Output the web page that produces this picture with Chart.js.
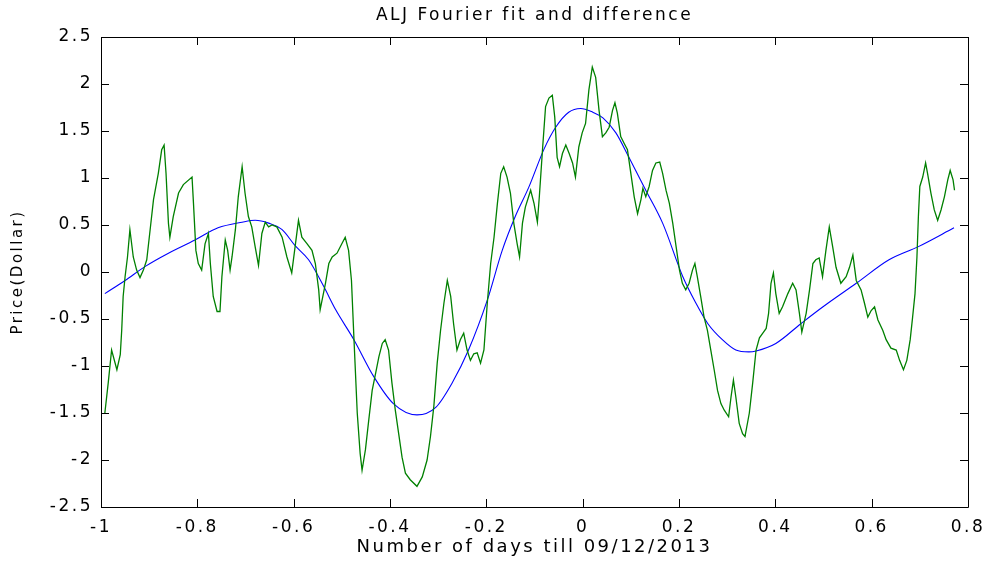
<!DOCTYPE html>
<html>
<head>
<meta charset="utf-8">
<script src="https://cdn.jsdelivr.net/npm/chart.js@4/dist/chart.umd.min.js"></script>
<style>
  html, body { margin: 0; padding: 0; background: #fff; }
  canvas { display: block; }
</style>
</head>
<body>
<canvas id="fitChart" width="995" height="561"></canvas>
<script>
// price difference (green)
const diffX = [-0.992,-0.985,-0.978,-0.967,-0.960,-0.957,-0.954,-0.950,-0.945,-0.940,-0.933,-0.926,-0.919,-0.912,-0.905,-0.898,-0.891,-0.881,-0.874,-0.869,-0.865,-0.860,-0.857,-0.850,-0.839,-0.829,-0.811,-0.808,-0.803,-0.798,-0.791,-0.784,-0.777,-0.773,-0.767,-0.759,-0.753,-0.749,-0.742,-0.737,-0.732,-0.728,-0.721,-0.715,-0.707,-0.701,-0.694,-0.687,-0.680,-0.673,-0.666,-0.659,-0.652,-0.645,-0.635,-0.624,-0.614,-0.604,-0.597,-0.590,-0.583,-0.572,-0.562,-0.555,-0.548,-0.545,-0.534,-0.527,-0.520,-0.510,-0.500,-0.493,-0.486,-0.480,-0.475,-0.468,-0.462,-0.458,-0.451,-0.444,-0.437,-0.430,-0.423,-0.416,-0.410,-0.403,-0.396,-0.389,-0.382,-0.375,-0.368,-0.358,-0.344,-0.333,-0.323,-0.316,-0.309,-0.302,-0.295,-0.288,-0.281,-0.274,-0.268,-0.261,-0.254,-0.247,-0.240,-0.233,-0.226,-0.219,-0.212,-0.205,-0.198,-0.191,-0.184,-0.177,-0.170,-0.164,-0.157,-0.150,-0.143,-0.136,-0.131,-0.125,-0.119,-0.108,-0.101,-0.094,-0.090,-0.083,-0.077,-0.070,-0.063,-0.058,-0.053,-0.048,-0.042,-0.035,-0.028,-0.021,-0.015,-0.008,-0.001,0.006,0.013,0.020,0.027,0.034,0.041,0.048,0.055,0.062,0.067,0.072,0.079,0.086,0.093,0.100,0.107,0.114,0.121,0.125,0.131,0.138,0.145,0.152,0.160,0.166,0.173,0.180,0.187,0.194,0.201,0.207,0.214,0.221,0.228,0.233,0.238,0.245,0.252,0.259,0.266,0.273,0.280,0.287,0.294,0.303,0.308,0.313,0.318,0.325,0.332,0.337,0.346,0.353,0.360,0.367,0.374,0.381,0.386,0.391,0.396,0.401,0.408,0.415,0.426,0.436,0.443,0.450,0.455,0.464,0.471,0.478,0.484,0.491,0.498,0.505,0.512,0.519,0.526,0.536,0.547,0.554,0.561,0.568,0.578,0.585,0.592,0.599,0.606,0.613,0.623,0.630,0.640,0.651,0.658,0.666,0.673,0.680,0.685,0.690,0.694,0.697,0.700,0.706,0.712,0.716,0.723,0.730,0.737,0.744,0.751,0.758,0.763,0.769,0.772];
const diffY = [-1.50,-1.18,-0.83,-1.04,-0.88,-0.62,-0.26,-0.05,0.16,0.45,0.16,0.02,-0.06,0.02,0.13,0.45,0.77,1.05,1.30,1.35,1.05,0.52,0.37,0.59,0.84,0.93,1.01,0.73,0.23,0.09,0.02,0.30,0.41,0.09,-0.26,-0.42,-0.42,-0.05,0.34,0.23,0.02,0.16,0.45,0.80,1.12,0.84,0.59,0.48,0.27,0.07,0.41,0.53,0.48,0.50,0.48,0.37,0.16,-0.01,0.27,0.55,0.37,0.30,0.23,0.09,-0.19,-0.40,-0.12,0.09,0.16,0.20,0.30,0.37,0.23,-0.09,-0.69,-1.50,-1.93,-2.11,-1.89,-1.57,-1.26,-1.08,-0.90,-0.76,-0.72,-0.83,-1.18,-1.47,-1.72,-1.97,-2.14,-2.21,-2.28,-2.18,-2.00,-1.75,-1.43,-0.97,-0.62,-0.33,-0.09,-0.26,-0.55,-0.83,-0.72,-0.65,-0.83,-0.94,-0.87,-0.86,-0.97,-0.83,-0.33,0.09,0.37,0.73,1.05,1.12,1.01,0.84,0.52,0.30,0.16,0.52,0.69,0.87,0.73,0.53,0.80,1.33,1.76,1.85,1.88,1.65,1.22,1.12,1.26,1.35,1.26,1.16,1.01,1.33,1.48,1.58,1.94,2.18,2.07,1.72,1.44,1.48,1.54,1.72,1.80,1.69,1.44,1.37,1.30,1.05,0.80,0.62,0.77,0.89,0.80,0.91,1.08,1.16,1.17,1.05,0.87,0.73,0.52,0.27,0.02,-0.12,-0.19,-0.12,0.02,0.09,-0.05,-0.26,-0.48,-0.62,-0.83,-1.04,-1.26,-1.40,-1.47,-1.54,-1.33,-1.15,-1.33,-1.61,-1.72,-1.75,-1.50,-1.18,-0.83,-0.70,-0.65,-0.60,-0.44,-0.12,-0.01,-0.23,-0.44,-0.37,-0.23,-0.12,-0.19,-0.44,-0.64,-0.44,-0.19,0.09,0.13,0.15,-0.05,0.23,0.48,0.27,0.05,-0.12,-0.05,0.05,0.18,-0.09,-0.19,-0.33,-0.48,-0.41,-0.37,-0.51,-0.62,-0.72,-0.81,-0.83,-0.94,-1.04,-0.94,-0.72,-0.48,-0.23,0.16,0.59,0.91,1.01,1.16,1.05,0.84,0.66,0.55,0.66,0.80,0.98,1.08,0.98,0.87];

// Fourier fit (blue)
const fitX = [-0.992,-0.950,-0.908,-0.860,-0.805,-0.757,-0.707,-0.680,-0.652,-0.624,-0.597,-0.569,-0.538,-0.513,-0.475,-0.434,-0.393,-0.344,-0.305,-0.271,-0.237,-0.198,-0.167,-0.140,-0.112,-0.080,-0.056,-0.029,-0.004,0.021,0.042,0.069,0.096,0.131,0.166,0.208,0.235,0.260,0.290,0.318,0.345,0.360,0.401,0.453,0.499,0.568,0.636,0.697,0.771];
const fitY = [-0.23,-0.09,0.06,0.20,0.34,0.47,0.53,0.55,0.52,0.45,0.28,0.13,-0.15,-0.40,-0.72,-1.11,-1.40,-1.52,-1.44,-1.18,-0.83,-0.30,0.23,0.59,0.90,1.31,1.54,1.70,1.74,1.70,1.64,1.48,1.22,0.87,0.52,-0.05,-0.33,-0.55,-0.72,-0.83,-0.85,-0.84,-0.76,-0.55,-0.37,-0.12,0.13,0.27,0.47];

const xTicks = [-1, -0.8, -0.6, -0.4, -0.2, 0, 0.2, 0.4, 0.6, 0.8];
const yTicks = [-2.5, -2, -1.5, -1, -0.5, 0, 0.5, 1, 1.5, 2, 2.5];

const FONT = 'DejaVu Sans';

// MATLAB style box with ticks pointing inward
const boxPlugin = {
  id: 'box',
  beforeDraw(chart) {
    chart.ctx.letterSpacing = '2.5px';
  },
  afterDatasetsDraw(chart) {
    const { ctx, chartArea: a, scales } = chart;
    ctx.save();
    ctx.strokeStyle = '#000';
    ctx.lineWidth = 1;
    ctx.beginPath();
    ctx.rect(Math.round(a.left) + 0.5, Math.round(a.top) + 0.5, Math.round(a.right - a.left), Math.round(a.bottom - a.top));
    const len = 8;
    xTicks.forEach(v => {
      const px = Math.round(scales.x.getPixelForValue(v)) + 0.5;
      ctx.moveTo(px, a.bottom); ctx.lineTo(px, a.bottom - len);
      ctx.moveTo(px, a.top); ctx.lineTo(px, a.top + len);
    });
    yTicks.forEach(v => {
      const py = Math.round(scales.y.getPixelForValue(v)) + 0.5;
      ctx.moveTo(a.left, py); ctx.lineTo(a.left + len, py);
      ctx.moveTo(a.right, py); ctx.lineTo(a.right - len, py);
    });
    ctx.stroke();
    ctx.restore();
  }
};

const fmt = v => String(Math.round(v * 10) / 10);

new Chart(document.getElementById('fitChart'), {
  type: 'line',
  data: {
    datasets: [
      {
        label: 'difference',
        data: diffX.map((x, i) => ({ x: x, y: diffY[i] })),
        borderColor: '#008000',
        borderWidth: 1.3,
        pointRadius: 0,
        tension: 0,
        fill: false
      },
      {
        label: 'Fourier fit',
        data: fitX.map((x, i) => ({ x: x, y: fitY[i] })),
        borderColor: '#0000ff',
        borderWidth: 1.1,
        pointRadius: 0,
        cubicInterpolationMode: 'monotone',
        fill: false
      }
    ]
  },
  options: {
    responsive: false,
    animation: false,
    devicePixelRatio: 1,
    layout: { padding: { left: 0, right: 27, top: 0, bottom: 0 } },
    plugins: {
      legend: { display: false },
      tooltip: { enabled: false },
      title: {
        display: true,
        fullSize: false,
        text: 'ALJ Fourier fit and difference',
        color: '#000',
        font: { family: FONT, size: 17, weight: 'normal' },
        padding: { top: 5, bottom: 11.6 }
      }
    },
    scales: {
      x: {
        type: 'linear',
        min: -1,
        max: 0.8,
        grid: { display: false },
        border: { display: false },
        ticks: {
          stepSize: 0.2,
          color: '#000',
          padding: 2,
          maxRotation: 0,
          font: { family: FONT, size: 17 },
          callback: fmt
        },
        title: {
          display: true,
          text: 'Number of days till 09/12/2013',
          color: '#000',
          font: { family: FONT, size: 18 },
          padding: { top: 0, bottom: 3 }
        },
        afterFit(scale) { scale.height = 54; }
      },
      y: {
        min: -2.5,
        max: 2.5,
        grid: { display: false },
        border: { display: false },
        ticks: {
          stepSize: 0.5,
          color: '#000',
          padding: 0,
          font: { family: FONT, size: 17 },
          callback: fmt
        },
        title: {
          display: true,
          text: 'Price(Dollar)',
          color: '#000',
          font: { family: FONT, size: 15 },
          padding: { top: 9, bottom: 0 }
        },
        afterFit(scale) { scale.width = 101; }
      }
    }
  },
  plugins: [boxPlugin]
});
</script>
</body>
</html>
